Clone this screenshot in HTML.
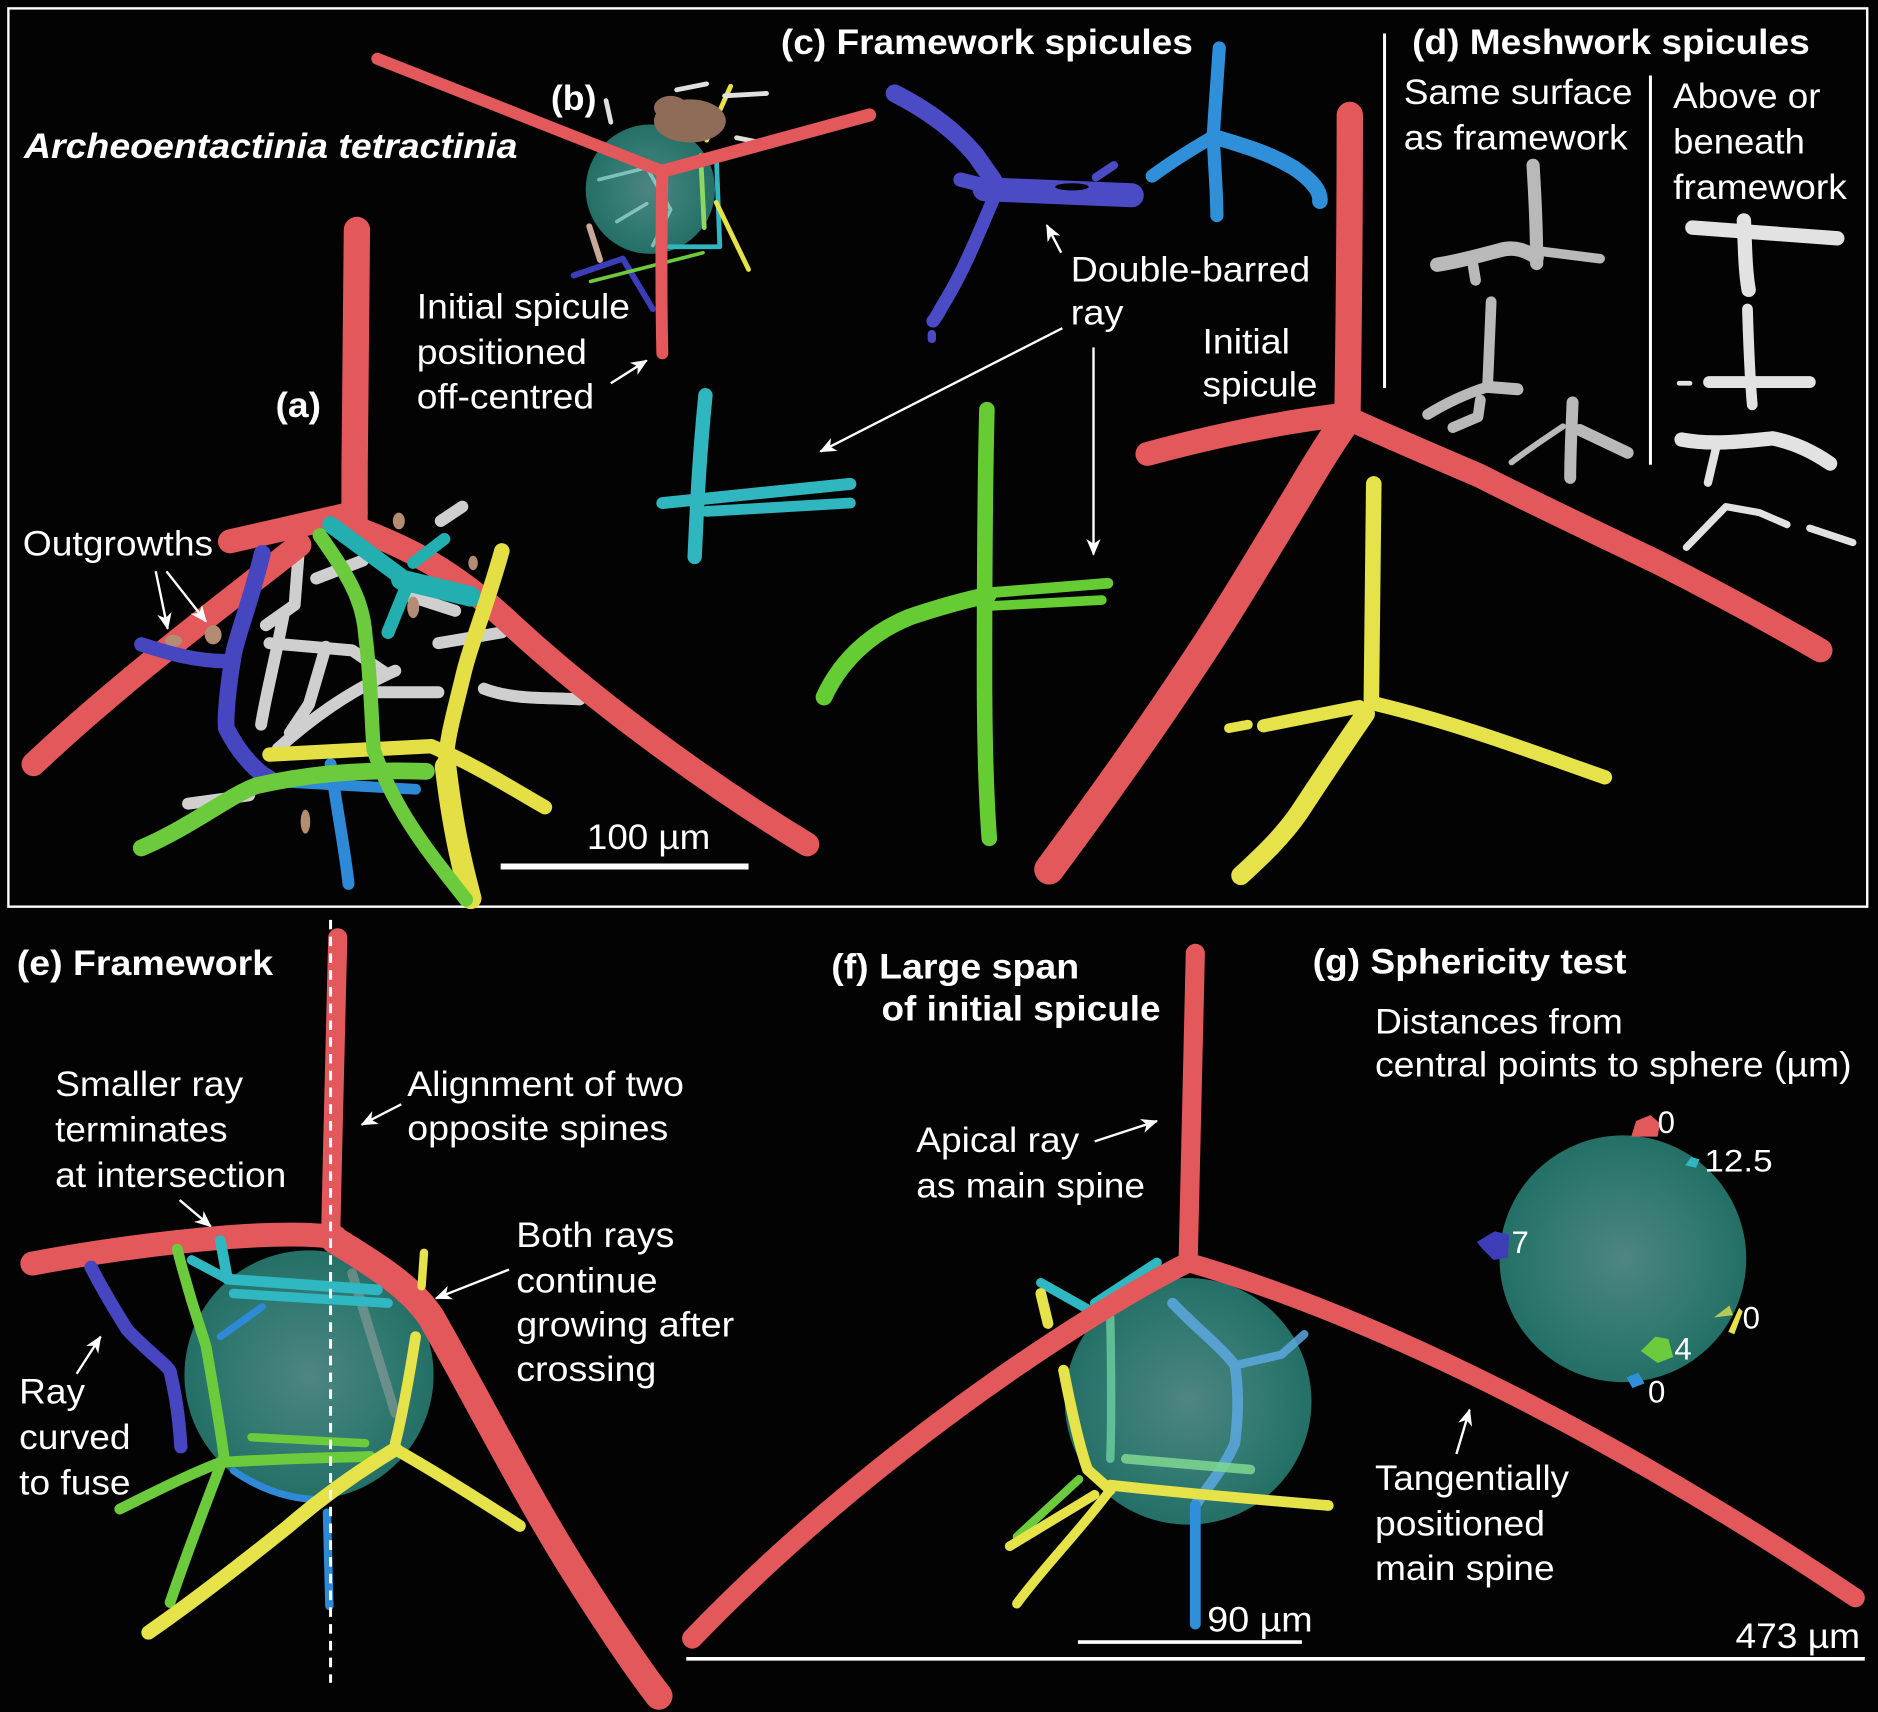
<!DOCTYPE html>
<html><head><meta charset="utf-8"><style>
html,body{margin:0;padding:0;background:#030303;}
svg{display:block;}
.s{fill:none;stroke-linecap:round;stroke-linejoin:round;}
text{font-family:"Liberation Sans",Arial,sans-serif;fill:#fff;}
.b{font-weight:bold;}
</style></head><body>
<svg width="1878" height="1712" viewBox="0 0 1568 1429.4" preserveAspectRatio="none" xmlns="http://www.w3.org/2000/svg">
<defs>
<radialGradient id="sph" cx="50%" cy="50%" r="50%">
<stop offset="0" stop-color="#4f8581"/>
<stop offset="0.6" stop-color="#327a72"/>
<stop offset="1" stop-color="#246f66"/>
</radialGradient>
<marker id="ah" viewBox="0 0 14 12" refX="13" refY="6" markerWidth="14" markerHeight="12" orient="auto" markerUnits="userSpaceOnUse">
<path d="M0,0 L14,6 L0,12 L4,6 z" fill="#fff"/>
</marker>
</defs>
<rect x="0" y="0" width="1568" height="1429.4" fill="#030303"/>
<rect x="7" y="7" width="1552" height="750" fill="none" stroke="#fff" stroke-width="2"/>

<!-- ===== Panel (a) ===== -->
<g class="s">
<g stroke="#cfcfcf" stroke-width="10">
<path d="M250,453 L246,505 L222,522"/>
<path d="M237,512 C230,550 222,580 218,605"/>
<path d="M225,537 L294,543 L322,562"/>
<path d="M272,540 L258,588 L242,612"/>
<path d="M232,625 C260,600 290,578 330,560"/>
<path d="M264,483 L303,468"/>
<path d="M366,537 L419,528"/>
<path d="M404,575 C430,585 460,582 484,584"/>
<path d="M368,435 L386,423"/>
<path d="M157,671 L208,664"/>
<path d="M315,578 L366,578"/>
<path d="M340,497 L380,510"/>
</g>
<g stroke="#e2585b">
<path d="M298,192 C297,260 296,350 296,435" stroke-width="22"/>
<path d="M192,452 L297,428" stroke-width="20"/>
<path d="M250,455 C180,510 100,570 28,638" stroke-width="20"/>
<path d="M278,434 C330,452 370,470 420,515 C500,590 600,660 674,705" stroke-width="20"/>
</g>
<g fill="#b38c74" stroke="none">
<ellipse cx="145" cy="535" rx="7" ry="5"/>
<ellipse cx="178" cy="530" rx="7" ry="8"/>
<ellipse cx="345" cy="507" rx="5" ry="9"/>
<ellipse cx="333" cy="435" rx="5" ry="7"/>
<ellipse cx="255" cy="686" rx="4" ry="10"/>
<ellipse cx="395" cy="470" rx="4" ry="6"/>
</g>
<g stroke="#4646c0">
<path d="M219,462 C210,500 198,530 195,546 C190,575 188,600 189,608 C200,630 215,645 225,650" stroke-width="14"/>
<path d="M118,538 C140,545 165,553 195,552" stroke-width="12"/>
</g>
<g stroke="#23aeb0">
<path d="M276,438 L341,486" stroke-width="14"/>
<path d="M335,484 L393,498" stroke-width="17"/>
<path d="M341,486 L324,528" stroke-width="11"/>
<path d="M345,470 L371,450" stroke-width="10"/>
</g>
<g stroke="#2e8ad6">
<path d="M276,638 C282,680 288,710 291,738" stroke-width="10"/>
<path d="M237,653 L347,659" stroke-width="9"/>
</g>
<g stroke="#e3df45">
<path d="M225,630 L360,623 C400,640 430,660 455,674" stroke-width="12"/>
<path d="M419,460 C405,510 392,540 386,567 C378,600 372,620 372,643" stroke-width="13"/>
<path d="M372,640 C378,690 385,720 393,750" stroke-width="18"/>
</g>
<g stroke="#6ccb3c">
<path d="M267,447 C290,480 303,500 305,530 C310,570 310,600 312,626 C330,680 365,720 389,751" stroke-width="12"/>
<path d="M118,708 C160,690 190,665 214,656 C250,648 290,642 356,644" stroke-width="14"/>
</g>
</g>

<!-- ===== Panel (b) ===== -->
<circle cx="543" cy="158" r="54" fill="url(#sph)"/>
<g class="s">
<g stroke="#9fe0d8" stroke-width="3" opacity="0.7">
<path d="M500,150 L540,140 L560,175 L545,205"/>
<path d="M515,185 L540,170"/>
</g>
<path d="M585,130 L588,190" stroke="#8fd860" stroke-width="4"/>
<path d="M598,128 L601,206 L559,206" stroke="#2fb6c0" stroke-width="4"/>
<path d="M610,72 L590,117" stroke="#e6e24a" stroke-width="4"/>
<path d="M598,169 L625,225" stroke="#e6e24a" stroke-width="4"/>
<path d="M479,230 L520,216 L545,258" stroke="#3d3db8" stroke-width="5"/>
<path d="M493,235 L587,211" stroke="#6ccb3c" stroke-width="3"/>
<path d="M492,189 L501,217" stroke="#c8a898" stroke-width="5"/>
<path d="M605,80 L640,78 M615,115 L640,120 M565,75 L590,70" stroke="#e0e0e0" stroke-width="4"/>
<path d="M506,84 L510,102" stroke="#e0e0e0" stroke-width="4"/>
<g fill="#8f6c58" stroke="none">
<ellipse cx="576" cy="101" rx="30" ry="18"/>
<ellipse cx="560" cy="90" rx="14" ry="10"/>
</g>
<g stroke="#e2585b">
<path d="M315,49 L553,143" stroke-width="10"/>
<path d="M553,143 L726,96" stroke-width="11"/>
<path d="M553,143 C552,200 552,250 553,295" stroke-width="10"/>
</g>
</g>

<!-- ===== Panel (c) ===== -->
<g class="s">
<g stroke="#4b4bc6">
<path d="M747,78 C780,95 800,112 815,130 C825,145 830,150 832,156" stroke-width="15"/>
<path d="M822,158 L945,163" stroke-width="20"/>
<path d="M832,160 C815,200 805,225 790,250 C785,258 782,265 779,268" stroke-width="11"/>
<path d="M778,279 L778,283" stroke-width="7"/>
<path d="M802,150 L830,157" stroke-width="12"/>
<path d="M915,148 L930,138" stroke-width="7"/>
</g>
<ellipse cx="895" cy="156" rx="14" ry="3" fill="#030303"/>
<g stroke="#2f8fd9">
<path d="M1018,40 C1016,70 1014,95 1013,114 C1014,140 1016,160 1016,180" stroke-width="11"/>
<path d="M1013,114 C1000,122 985,130 962,147" stroke-width="11"/>
<path d="M1013,114 C1040,122 1060,128 1080,140 C1095,150 1103,160 1102,168" stroke-width="13"/>
</g>
<g stroke="#2fb6bf">
<path d="M589,330 C584,380 582,420 580,465" stroke-width="12"/>
<path d="M553,420 L710,404" stroke-width="10"/>
<path d="M590,427 L710,420" stroke-width="9"/>
</g>
<g stroke="#66cc33">
<path d="M824,342 C822,420 822,500 822,560 C822,620 823,660 826,700" stroke-width="13"/>
<path d="M688,582 C705,545 735,525 760,515 C790,505 810,500 825,497" stroke-width="14"/>
<path d="M825,495 L925,487" stroke-width="9"/>
<path d="M825,506 L920,501" stroke-width="8"/>
</g>
<g stroke="#e2585b">
<path d="M1127,96 C1127,200 1126,280 1125,349" stroke-width="22"/>
<path d="M958,379 C1010,365 1070,352 1125,346" stroke-width="20"/>
<path d="M1125,349 C1110,370 1095,395 1085,412 C1050,470 1020,520 995,557 C950,625 910,680 876,726" stroke-width="25"/>
<path d="M1125,349 C1160,365 1200,382 1235,397 C1290,425 1340,448 1385,470 C1440,498 1480,520 1520,543" stroke-width="20"/>
</g>
<g stroke="#e6e24a">
<path d="M1147,404 C1146,470 1146,530 1145,584" stroke-width="13"/>
<path d="M1140,596 C1120,625 1100,655 1085,678 C1070,700 1050,718 1036,731" stroke-width="16"/>
<path d="M1055,606 L1135,590" stroke-width="11"/>
<path d="M1026,608 L1042,605" stroke-width="8"/>
<path d="M1150,588 C1220,605 1280,628 1340,649" stroke-width="12"/>
</g>
</g>

<!-- ===== Panel (d) ===== -->
<g class="s">
<g stroke="#b9b9b9">
<path d="M1280,138 C1282,170 1283,200 1283,220" stroke-width="11"/>
<path d="M1200,221 C1220,218 1240,212 1252,209 C1265,205 1275,210 1283,215" stroke-width="12"/>
<path d="M1230,222 L1232,234" stroke-width="9"/>
<path d="M1288,210 L1336,216" stroke-width="8"/>
<path d="M1245,252 C1244,280 1243,300 1242,323" stroke-width="9"/>
<path d="M1242,323 C1220,330 1205,338 1192,346" stroke-width="9"/>
<path d="M1242,323 L1267,325" stroke-width="10"/>
<path d="M1236,334 L1234,348 L1213,357" stroke-width="9"/>
<path d="M1313,336 C1312,360 1311,380 1311,399" stroke-width="10"/>
<path d="M1305,356 C1290,366 1275,376 1262,386" stroke-width="5"/>
<path d="M1319,359 L1359,378" stroke-width="10"/>
</g>
<g stroke="#e2e2e2">
<path d="M1413,190 L1534,199" stroke-width="12"/>
<path d="M1456,184 C1457,205 1457,225 1460,242" stroke-width="12"/>
<path d="M1459,258 C1460,290 1461,315 1463,338" stroke-width="9"/>
<path d="M1427,319 L1511,319" stroke-width="10"/>
<path d="M1402,320 L1411,320" stroke-width="4"/>
<path d="M1404,367 C1430,372 1460,368 1480,366 C1500,370 1515,378 1528,387" stroke-width="12"/>
<path d="M1433,373 L1426,403" stroke-width="7"/>
<path d="M1408,457 L1441,423 L1469,428 L1492,438" stroke-width="6"/>
<path d="M1511,441 L1547,453" stroke-width="6"/>
</g>
</g>
<g stroke="#fff" stroke-width="2.5">
<line x1="1156" y1="28" x2="1156" y2="324"/>
<line x1="1378" y1="63" x2="1378" y2="388"/>
</g>

<!-- ===== Panel (e) ===== -->
<circle cx="258" cy="1148" r="104" fill="url(#sph)"/>
<g class="s">
<path d="M294,1063 L330,1180" stroke="#d8b8b8" stroke-width="8" opacity="0.35"/>
<g stroke="#2e8ad6">
<path d="M219,1091 L184,1116" stroke-width="6"/>
<path d="M273,1263 L275,1341" stroke-width="7"/>
<path d="M195,1228 Q230,1252 268,1252" stroke-width="6"/>
</g>
<g stroke="#e2585b">
<path d="M282,783 C280,850 278,950 276,1035" stroke-width="16"/>
<path d="M27,1055 C80,1045 130,1038 190,1033 C230,1030 260,1030 280,1033" stroke-width="20"/>
<path d="M279,1035 C320,1060 345,1077 360,1100 C400,1170 440,1250 484,1319 C510,1360 530,1390 550,1416" stroke-width="23"/>
</g>
<path d="M76,1058 C90,1085 100,1100 106,1110 C125,1130 140,1140 142,1145 C148,1170 150,1190 151,1208" stroke="#4646c0" stroke-width="11"/>
<g stroke="#2fb8c2">
<path d="M184,1036 L190,1068 L315,1077" stroke-width="9"/>
<path d="M160,1052 L190,1068" stroke-width="8"/>
<path d="M195,1080 L324,1088" stroke-width="8"/>
</g>
<g stroke="#6ccb3c">
<path d="M148,1043 C160,1090 168,1110 172,1124 C180,1170 185,1200 187,1216 C170,1260 155,1300 142,1338" stroke-width="9"/>
<path d="M100,1260 C140,1240 165,1228 184,1221 C230,1218 270,1217 309,1216" stroke-width="9"/>
<path d="M210,1200 L305,1205" stroke-width="7"/>
</g>
<g stroke="#e6e24a">
<path d="M354,1046 L352,1074" stroke-width="7"/>
<path d="M347,1116 C340,1160 335,1185 330,1205" stroke-width="9"/>
<path d="M330,1210 C300,1228 270,1249 240,1275 C190,1315 150,1345 124,1363" stroke-width="12"/>
<path d="M330,1210 C360,1227 400,1252 434,1274" stroke-width="10"/>
</g>
</g>
<line x1="276" y1="768" x2="276" y2="1405" stroke="#fff" stroke-width="2.5" stroke-dasharray="8 6"/>

<!-- ===== Panel (f) ===== -->
<circle cx="992" cy="1170" r="103" fill="url(#sph)"/>
<g class="s">
<g stroke="#5ca8e0" opacity="0.85">
<path d="M979,1088 C1000,1110 1020,1125 1031,1140 C1035,1165 1033,1190 1031,1205 C1020,1230 1005,1245 998,1257" stroke-width="9"/>
<path d="M1031,1140 L1070,1131 L1089,1114" stroke-width="7"/>
</g>
<path d="M998,1257 L998,1356" stroke="#2f8fd8" stroke-width="9"/>
<path d="M927,1100 C928,1150 928,1190 927,1218" stroke="#6fd0a0" stroke-width="7" opacity="0.8"/>
<path d="M940,1218 L1044,1227" stroke="#7fd890" stroke-width="8" opacity="0.85"/>
<g stroke="#2fb8c2">
<path d="M869,1071 L908,1093" stroke-width="8"/>
<path d="M914,1088 L966,1054" stroke-width="8"/>
</g>
<g stroke="#e2585b">
<path d="M998,796 C996,900 993,980 992,1054" stroke-width="16"/>
<path d="M992,1054 C900,1100 720,1220 578,1368" stroke-width="17"/>
<path d="M992,1054 C1150,1100 1350,1200 1549,1334" stroke-width="16"/>
</g>
<path d="M901,1235 L849,1283" stroke="#6ccb3c" stroke-width="7"/>
<g stroke="#e6e24a">
<path d="M869,1080 L875,1105" stroke-width="9"/>
<path d="M888,1144 C895,1180 902,1210 908,1227 L927,1244" stroke-width="9"/>
<path d="M927,1240 C990,1247 1050,1252 1109,1257" stroke-width="9"/>
<path d="M927,1244 C900,1280 870,1310 849,1339" stroke-width="8"/>
<path d="M914,1248 L843,1291" stroke-width="8"/>
</g>
</g>

<!-- ===== Panel (g) ===== -->
<circle cx="1355" cy="1051" r="103" fill="url(#sph)"/>
<g stroke="none">
<path d="M1362,949 L1366,936 L1378,931 L1386,938 L1384,949 Z" fill="#e2585b"/>
<path d="M1407,973 L1412,966 L1419,968 L1416,975 Z" fill="#2fb8c2"/>
<path d="M1233,1037 L1248,1028 L1260,1031 L1259,1050 L1247,1052 L1238,1043 Z" fill="#3d3db8"/>
<path d="M1431,1100 L1444,1090 L1447,1098 Z" fill="#b8c85a"/>
<path d="M1443,1112 L1452,1092 L1455,1095 L1448,1114 Z" fill="#e6e24a"/>
<path d="M1370,1128 L1382,1116 L1393,1118 L1397,1133 L1384,1138 Z" fill="#6ccb3c"/>
<path d="M1358,1150 L1368,1146 L1373,1155 L1363,1159 Z" fill="#2f8fd8"/>
</g>

<!-- ===== Scale bars ===== -->
<g stroke="#fff">
<line x1="418" y1="723.5" x2="625" y2="723.5" stroke-width="5"/>
<line x1="900" y1="1371" x2="1087" y2="1371" stroke-width="3"/>
<line x1="573" y1="1385" x2="1557" y2="1385" stroke-width="3"/>
</g>

<!-- ===== Arrows ===== -->
<g stroke="#fff" stroke-width="2" fill="none" marker-end="url(#ah)">
<line x1="510" y1="320" x2="540" y2="301"/>
<line x1="130" y1="477" x2="140" y2="525"/>
<line x1="139" y1="477" x2="172" y2="519"/>
<line x1="886" y1="211" x2="874" y2="188"/>
<line x1="887" y1="274" x2="685" y2="377"/>
<line x1="913" y1="290" x2="913" y2="463"/>
<line x1="150" y1="1002" x2="176" y2="1024"/>
<line x1="335" y1="922" x2="302" y2="939"/>
<line x1="425" y1="1060" x2="364" y2="1084"/>
<line x1="64" y1="1147" x2="84" y2="1116"/>
<line x1="914" y1="953" x2="966" y2="936"/>
<line x1="1216" y1="1214" x2="1227" y2="1177"/>
</g>

<!-- ===== Text ===== -->
<g font-size="29">
<text class="b" x="460" y="92" textLength="38" lengthAdjust="spacingAndGlyphs">(b)</text>
<text class="b" x="20" y="132" font-style="italic" textLength="412" lengthAdjust="spacingAndGlyphs">Archeoentactinia tetractinia</text>
<text x="348" y="266" textLength="178" lengthAdjust="spacingAndGlyphs">Initial spicule</text>
<text x="348" y="304" textLength="142" lengthAdjust="spacingAndGlyphs">positioned</text>
<text x="348" y="341" textLength="148" lengthAdjust="spacingAndGlyphs">off-centred</text>
<text class="b" x="230" y="348" textLength="38" lengthAdjust="spacingAndGlyphs">(a)</text>
<text x="19" y="464" textLength="159" lengthAdjust="spacingAndGlyphs">Outgrowths</text>
<text x="490" y="709" textLength="103" lengthAdjust="spacingAndGlyphs">100 µm</text>
<text class="b" x="652" y="45" textLength="344" lengthAdjust="spacingAndGlyphs">(c) Framework spicules</text>
<text x="894" y="235" textLength="200" lengthAdjust="spacingAndGlyphs">Double-barred</text>
<text x="894" y="271" textLength="44" lengthAdjust="spacingAndGlyphs">ray</text>
<text x="1004" y="295" textLength="73" lengthAdjust="spacingAndGlyphs">Initial</text>
<text x="1004" y="331" textLength="96" lengthAdjust="spacingAndGlyphs">spicule</text>
<text class="b" x="1179" y="45" textLength="332" lengthAdjust="spacingAndGlyphs">(d) Meshwork spicules</text>
<text x="1172" y="87" textLength="191" lengthAdjust="spacingAndGlyphs">Same surface</text>
<text x="1172" y="125" textLength="187" lengthAdjust="spacingAndGlyphs">as framework</text>
<text x="1397" y="90" textLength="123" lengthAdjust="spacingAndGlyphs">Above or</text>
<text x="1397" y="128" textLength="110" lengthAdjust="spacingAndGlyphs">beneath</text>
<text x="1397" y="166" textLength="145" lengthAdjust="spacingAndGlyphs">framework</text>

<text class="b" x="14" y="814" textLength="214" lengthAdjust="spacingAndGlyphs">(e) Framework</text>
<text x="46" y="915" textLength="157" lengthAdjust="spacingAndGlyphs">Smaller ray</text>
<text x="46" y="953" textLength="144" lengthAdjust="spacingAndGlyphs">terminates</text>
<text x="46" y="991" textLength="193" lengthAdjust="spacingAndGlyphs">at intersection</text>
<text x="340" y="915" textLength="231" lengthAdjust="spacingAndGlyphs">Alignment of two</text>
<text x="340" y="952" textLength="218" lengthAdjust="spacingAndGlyphs">opposite spines</text>
<text x="431" y="1041" textLength="132" lengthAdjust="spacingAndGlyphs">Both rays</text>
<text x="431" y="1079" textLength="118" lengthAdjust="spacingAndGlyphs">continue</text>
<text x="431" y="1116" textLength="182" lengthAdjust="spacingAndGlyphs">growing after</text>
<text x="431" y="1153" textLength="117" lengthAdjust="spacingAndGlyphs">crossing</text>
<text x="16" y="1172" textLength="55" lengthAdjust="spacingAndGlyphs">Ray</text>
<text x="16" y="1210" textLength="93" lengthAdjust="spacingAndGlyphs">curved</text>
<text x="16" y="1248" textLength="93" lengthAdjust="spacingAndGlyphs">to fuse</text>
<text class="b" x="694" y="817" textLength="207" lengthAdjust="spacingAndGlyphs">(f) Large span</text>
<text class="b" x="736" y="852" textLength="233" lengthAdjust="spacingAndGlyphs">of initial spicule</text>
<text x="765" y="962" textLength="136" lengthAdjust="spacingAndGlyphs">Apical ray</text>
<text x="765" y="1000" textLength="191" lengthAdjust="spacingAndGlyphs">as main spine</text>
<text class="b" x="1096" y="813" textLength="262" lengthAdjust="spacingAndGlyphs">(g) Sphericity test</text>
<text x="1148" y="863" textLength="207" lengthAdjust="spacingAndGlyphs">Distances from</text>
<text x="1148" y="899" textLength="398" lengthAdjust="spacingAndGlyphs">central points to sphere (µm)</text>
<text x="1148" y="1244" textLength="162" lengthAdjust="spacingAndGlyphs">Tangentially</text>
<text x="1148" y="1282" textLength="142" lengthAdjust="spacingAndGlyphs">positioned</text>
<text x="1148" y="1319" textLength="150" lengthAdjust="spacingAndGlyphs">main spine</text>
<text x="1008" y="1362" textLength="88" lengthAdjust="spacingAndGlyphs">90 µm</text>
<text x="1449" y="1376" textLength="104" lengthAdjust="spacingAndGlyphs">473 µm</text>
</g>
<g font-size="26">
<text x="1384" y="946">0</text>
<text x="1423" y="978" textLength="57" lengthAdjust="spacingAndGlyphs">12.5</text>
<text x="1262" y="1046">7</text>
<text x="1455" y="1109">0</text>
<text x="1398" y="1135">4</text>
<text x="1376" y="1171">0</text>
</g>
</svg>
</body></html>
